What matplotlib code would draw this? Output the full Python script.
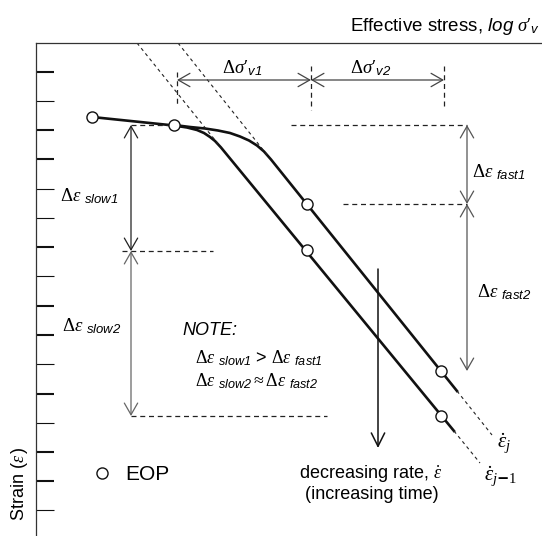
import matplotlib.pyplot as plt

plt.rcParams['font.family'] = 'Liberation Sans'
plt.rcParams['mathtext.fontset'] = 'custom'
plt.rcParams['mathtext.rm'] = 'Liberation Serif'
plt.rcParams['mathtext.it'] = 'Liberation Serif:italic'
plt.rcParams['mathtext.sf'] = 'Liberation Sans:italic'

# values: x = log effective stress, y = strain (grows downward),
# both in drawing units of the sketch
stress_slow = [92, 174, 187, 197, 204, 210, 215, 221, 454]
strain_slow = [117, 125.5, 127.5, 130, 133, 137, 141, 147.5, 431]
stress_fast = [174, 190, 205, 218, 230, 240, 249, 257, 264, 271, 457]
strain_fast = [125, 127, 128.5, 130.5, 133, 136.5, 140.5, 145.5, 151.5, 159.5, 391]

# end of primary (EOP) points
eop_stress = [92, 174, 307, 307, 441, 441]
eop_strain = [117, 125, 204, 250, 371, 416]

# dashed straight-line parts
asym_slow_x, asym_slow_y = [137, 221], [43, 147.5]
asym_fast_x, asym_fast_y = [178, 268], [43, 156]
ext_slow_x, ext_slow_y = [454, 480], [431, 463]
ext_fast_x, ext_fast_y = [457, 492], [391, 435]

# stress increments (log sigma' at the three load steps)
sig_steps = [177, 311, 444]
sig_marks = [(72, 104), (66, 110), (66, 107)]
sig_level = 80

# strain increments
slow_x = 131
slow_levels = [125, 251, 416]
fast_x = 467
fast_levels = [125, 204, 371]

# rate arrow
rate_x = 378
rate_y = [269, 448]

# strain axis ticks
ticks_major = [72, 130, 159, 247, 306, 335, 394, 452, 481]
ticks_minor = [101, 189, 218, 276, 364, 423, 510]

fig = plt.figure(figsize=(5.42, 5.36), dpi=100)
ax = fig.add_axes([36 / 542, 0, 506 / 542, 493 / 536])
ax.set_xlim(36, 542)
ax.set_ylim(536, 43)
for s in ['right', 'bottom']:
    ax.spines[s].set_visible(False)
for s in ['left', 'top']:
    ax.spines[s].set_linewidth(0.9)
    ax.spines[s].set_color('#333333')
ax.set_xticks([])
ax.set_yticks(ticks_major)
ax.set_yticks(ticks_minor, minor=True)
ax.tick_params(axis='y', which='both', direction='in', length=13, color='#111111', labelleft=False)
ax.tick_params(axis='y', which='major', width=1.5)
ax.tick_params(axis='y', which='minor', width=0.8)

# compression curves
ax.plot(stress_slow, strain_slow, color='#111111', lw=1.9, solid_joinstyle='round')
ax.plot(stress_fast, strain_fast, color='#111111', lw=1.9, solid_joinstyle='round')
for xs, ys in [(asym_slow_x, asym_slow_y), (asym_fast_x, asym_fast_y),
               (ext_slow_x, ext_slow_y), (ext_fast_x, ext_fast_y)]:
    ax.plot(xs, ys, color='#222222', lw=0.8, dashes=(3, 3))
ax.plot(eop_stress, eop_strain, 'o', ms=8, mfc='white', mec='#111111', mew=1.0, zorder=5)


def dim_arrow(p0, p1, color):
    ax.annotate('', xy=p1, xytext=p0,
                arrowprops=dict(arrowstyle='<->,head_length=0.7,head_width=0.4',
                                color=color, lw=0.9, shrinkA=0, shrinkB=0,
                                mutation_scale=12))


def dashed(xs, ys):
    ax.plot(xs, ys, color='#222222', lw=0.9, dashes=(4, 3))


def d_eps(sub):
    return r'$\Delta\varepsilon\ _{\mathsf{' + sub + '}}$'


# stress increments
for x, (y0, y1) in zip(sig_steps, sig_marks):
    dashed([x, x], [y0, y1])
dim_arrow((sig_steps[0], sig_level), (sig_steps[1], sig_level), '#444444')
dim_arrow((sig_steps[1], sig_level), (sig_steps[2], sig_level), '#444444')
ax.text(222, 73, r'$\Delta\sigma′_{\mathsf{v1}}$', fontsize=13.5)
ax.text(350, 73, r'$\Delta\sigma′_{\mathsf{v2}}$', fontsize=13.5)

# slow strain increments
dashed([slow_x, 168], [slow_levels[0]] * 2)
dashed([122, 213], [slow_levels[1]] * 2)
dashed([slow_x, 327], [slow_levels[2]] * 2)
dim_arrow((slow_x, slow_levels[0]), (slow_x, slow_levels[1]), '#222222')
dim_arrow((slow_x, slow_levels[1]), (slow_x, slow_levels[2]), '#666666')
ax.text(60, 201, d_eps('slow1'), fontsize=13.5)
ax.text(62, 331, d_eps('slow2'), fontsize=13.5)

# fast strain increments
dashed([291, fast_x], [fast_levels[0]] * 2)
dashed([343, fast_x], [fast_levels[1]] * 2)
dim_arrow((fast_x, fast_levels[0]), (fast_x, fast_levels[1]), '#555555')
dim_arrow((fast_x, fast_levels[1]), (fast_x, fast_levels[2]), '#555555')
ax.text(472, 177, d_eps('fast1'), fontsize=13.5)
ax.text(477, 297, d_eps('fast2'), fontsize=13.5)

# note
ax.text(182, 335, 'NOTE:', fontsize=13, style='italic')
ax.text(195, 363, d_eps('slow1') + ' > ' + d_eps('fast1'), fontsize=13)
ax.text(195, 386, r'$\Delta\varepsilon\ _{\mathsf{slow2}} \approx \Delta\varepsilon\ _{\mathsf{fast2}}$', fontsize=13)

# decreasing rate
ax.annotate('', xy=(rate_x, rate_y[1]), xytext=(rate_x, rate_y[0]),
            arrowprops=dict(arrowstyle='->,head_length=0.8,head_width=0.4',
                            color='#111111', lw=1.1, shrinkA=0, shrinkB=0,
                            mutation_scale=12))
ax.text(371, 479, r'decreasing rate, $\dot{\varepsilon}$', fontsize=13, ha='center')
ax.text(372, 499, '(increasing time)', fontsize=13, ha='center')

# rate labels
ax.text(497, 448, r'$\dot{\varepsilon}_{j}$', fontsize=15)
ax.text(484, 481, r'$\dot{\varepsilon}_{j\mathbf{-}1}$', fontsize=15)

# legend
ax.plot([102], [473], 'o', ms=8, mfc='white', mec='#111111', mew=1.0)
ax.text(125, 474, 'EOP', fontsize=15, va='center')

# axis titles
ax.text(540, 31, r'Effective stress, $\mathsf{log}\ \sigma′_{\mathsf{v}}$', fontsize=13.5, ha='right')
ax.text(20, 484, r'Strain ($\varepsilon\,$)', fontsize=13, rotation=90, ha='center', va='center')

fig.savefig('out.png', dpi=100)
